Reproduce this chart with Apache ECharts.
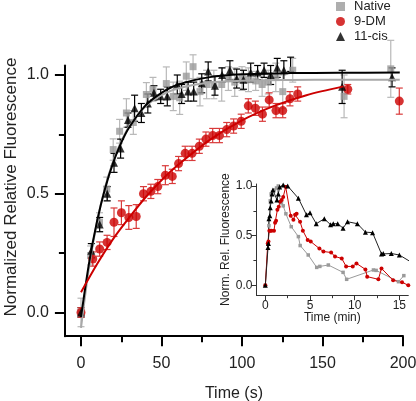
<!DOCTYPE html>
<html>
<head>
<meta charset="utf-8">
<script src="https://cdn.jsdelivr.net/npm/echarts@6/dist/echarts.min.js"></script>
<style>
html,body{margin:0;padding:0;background:#fff;}
#chart{width:416px;height:401px;}
</style>
</head>
<body>
<div id="chart"></div>
<script>
// ---------- Main panel data: [time s, value, error] ----------
const nativeT   = [0, 6, 11.5, 16, 20, 24, 28.2, 32.5, 40.6, 44.7, 53, 57.3, 61.3, 65.4, 69.6, 73.9, 78, 82.5, 87.4, 91.5, 95.5, 100, 104, 108.5, 112.5, 116.3, 121, 125.3, 131.5, 163.4, 192.4];
const nativeY   = [0, 0.24, 0.38, 0.52, 0.686, 0.763, 0.84, 0.80, 0.918, 0.94, 0.964, 0.91, 0.904, 0.995, 1.035, 0.93, 0.96, 0.96, 0.96, 0.985, 0.97, 0.985, 0.98, 0.975, 0.96, 0.97, 0.99, 0.93, 1.02, 0.91, 1.026];
const nativeErr = [0.06, 0.04, 0.04, 0.05, 0.045, 0.05, 0.06, 0.05, 0.05, 0.05, 0.07, 0.06, 0.07, 0.06, 0.05, 0.06, 0.06, 0.06, 0.07, 0.05, 0.06, 0.05, 0.05, 0.04, 0.05, 0.05, 0.06, 0.07, 0.05, 0.09, 0.12];

const dmT   = [0, 7.3, 11.6, 16.2, 20.5, 25.1, 29.7, 34.3, 38.8, 43.4, 47.7, 52.4, 56.7, 60.6, 64.7, 69.0, 73.5, 77.6, 81.8, 86, 90.5, 94.8, 99.5, 103.9, 108.3, 112.7, 116.9, 121.1, 125.3, 129.8, 134.6, 165.7, 197.7];
const dmY   = [0, 0.225, 0.267, 0.295, 0.38, 0.42, 0.40, 0.404, 0.50, 0.51, 0.53, 0.578, 0.573, 0.627, 0.67, 0.67, 0.70, 0.73, 0.745, 0.745, 0.77, 0.785, 0.805, 0.87, 0.86, 0.835, 0.895, 0.85, 0.85, 0.90, 0.92, 0.94, 0.89];
const dmErr = [0.02, 0.03, 0.03, 0.03, 0.06, 0.05, 0.05, 0.05, 0.03, 0.03, 0.03, 0.04, 0.03, 0.03, 0.03, 0.03, 0.03, 0.03, 0.03, 0.03, 0.03, 0.03, 0.03, 0.03, 0.03, 0.03, 0.03, 0.03, 0.03, 0.03, 0.03, 0.02, 0.055];

const cisT   = [0, 6.4, 11.6, 16.3, 20.5, 24.6, 29.2, 33.3, 37.5, 41.5, 45.3, 49.5, 53.6, 59.8, 62.5, 66.5, 70, 75, 79, 83.2, 87.6, 92.5, 96.7, 100.9, 105.4, 109.7, 113.7, 117.8, 121.9, 126, 130.2, 162.2, 193.2];
const cisY   = [0, 0.26, 0.37, 0.50, 0.63, 0.69, 0.81, 0.86, 0.84, 0.88, 0.925, 0.91, 0.91, 0.96, 0.92, 0.93, 0.93, 0.965, 1.015, 0.955, 1.0, 1.02, 0.985, 0.98, 1.01, 1.01, 1.02, 1.0, 1.03, 1.02, 1.045, 0.95, 0.99];
const cisErr = [0.02, 0.03, 0.03, 0.03, 0.04, 0.04, 0.03, 0.055, 0.04, 0.04, 0.03, 0.03, 0.04, 0.04, 0.04, 0.04, 0.04, 0.04, 0.04, 0.04, 0.03, 0.04, 0.04, 0.04, 0.04, 0.03, 0.03, 0.04, 0.04, 0.04, 0.03, 0.07, 0.04];

// fitted curves
const fitT      = [0, 5, 10, 15, 20, 25, 30, 40, 50, 60, 80, 100, 130, 160, 198];
const fitCisY   = [-0.02, 0.208, 0.385, 0.523, 0.631, 0.715, 0.78, 0.871, 0.925, 0.959, 0.991, 1.003, 1.008, 1.009, 1.01];
const fitNatY   = [-0.065, 0.19, 0.383, 0.528, 0.638, 0.721, 0.784, 0.867, 0.915, 0.943, 0.968, 0.976, 0.979, 0.98, 0.98];
const fitDmT    = [0, 10, 20, 30, 40, 50, 60, 80, 100, 120, 140, 163];
const fitDmY    = [0.085, 0.204, 0.31, 0.40, 0.484, 0.557, 0.62, 0.727, 0.809, 0.87, 0.915, 0.952];

// ---------- Inset data (time in min) ----------
const inNatT = [0, 0.3, 0.4, 0.55, 0.65, 0.8, 1.0, 1.25, 1.45, 1.8, 2.0, 2.3, 2.9, 3.7, 3.9, 4.8, 5.75, 6.1, 7.05, 8.7, 9.1, 12.1, 12.4, 14.9, 15.5];
const inNatY = [0, 0.42, 0.6, 0.85, 0.92, 0.94, 0.96, 0.98, 1.0, 0.83, 0.80, 0.72, 0.59, 0.49, 0.40, 0.305, 0.18, 0.19, 0.204, 0.13, 0.06, 0.154, 0.15, 0.036, 0.097];
const inDmT = [0, 0.27, 0.35, 0.45, 0.55, 0.7, 0.97, 1.09, 1.2, 1.35, 1.5, 1.65, 1.83, 2.0, 2.28, 2.84, 3.14, 3.33, 3.5, 3.89, 4.2, 4.74, 5.08, 6.05, 6.5, 7.36, 7.8, 8.55, 9.04, 9.78, 10.2, 11.2, 11.4, 12.65, 13.0, 14.3, 15.3, 16.0];
const inDmY = [0, 0.42, 0.44, 0.55, 0.55, 0.55, 0.55, 0.63, 0.65, 0.76, 0.79, 0.84, 0.86, 0.89, 0.99, 0.70, 0.66, 0.71, 0.72, 0.64, 0.55, 0.456, 0.44, 0.37, 0.34, 0.33, 0.29, 0.27, 0.19, 0.19, 0.22, 0.16, 0.087, 0.06, 0.17, 0.05, 0.03, 0.0];
const inCisT = [0, 0.3, 0.35, 0.4, 0.5, 0.55, 0.65, 0.75, 0.85, 1.3, 1.45, 1.6, 2.0, 2.5, 3.7, 4.6, 5.0, 5.7, 6.6, 7.3, 7.6, 8.1, 8.7, 9.2, 10.3, 11.2, 12.0, 13.0, 13.2, 14.1, 15.0, 16.1];
const inCisY = [0, 0.38, 0.42, 0.67, 0.70, 0.78, 0.85, 0.92, 0.96, 0.86, 0.92, 0.99, 1.01, 1.0, 0.876, 0.71, 0.73, 0.62, 0.67, 0.61, 0.62, 0.62, 0.575, 0.64, 0.62, 0.535, 0.53, 0.315, 0.32, 0.32, 0.305, 0.245];

// tick labels
const mainXTicks = [0, 50, 100, 150, 200];
const mainXMinor = [25, 75, 125, 175];
const mainYTicks = [0, 0.5, 1.0];
const mainYMinor = [0.25, 0.75];
const inXTicks = [0, 5, 10, 15];
const inXMinor = [2.5, 7.5, 12.5];
const inYTicks = [0, 0.5, 1.0];
const inYMinor = [0.25, 0.75];

const FONT = 'Liberation Sans, Arial, sans-serif';
const GRAY = '#9a9a9a', GRAY_ERR = '#b8b8b8', RED = '#cc0000', RED_ERR = '#d93a3a', BLACK = '#000';

const pts = (t, y) => t.map((v, i) => [v, y[i]]);
const errs = (t, y, e) => t.map((v, i) => [v, y[i] - e[i], y[i] + e[i]]);

function errSeries(data, color) {
  return {
    type: 'custom', xAxisIndex: 0, yAxisIndex: 0, data: data, silent: true,
    encode: { x: 0, y: [1, 2] },
    renderItem: function (params, api) {
      const x = api.value(0);
      const a = api.coord([x, api.value(1)]);
      const b = api.coord([x, api.value(2)]);
      const w = 3.5;
      const st = { stroke: color, lineWidth: 1.2 };
      return { type: 'group', children: [
        { type: 'line', shape: { x1: a[0], y1: a[1], x2: b[0], y2: b[1] }, style: st },
        { type: 'line', shape: { x1: a[0] - w, y1: a[1], x2: a[0] + w, y2: a[1] }, style: st },
        { type: 'line', shape: { x1: b[0] - w, y1: b[1], x2: b[0] + w, y2: b[1] }, style: st }
      ]};
    }
  };
}

function axisBase(gi, min, max, extra) {
  return Object.assign({ gridIndex: gi, type: 'value', min: min, max: max, splitLine: { show: false } }, extra);
}

const mainLabel = { fontFamily: FONT, fontSize: 16, color: '#222' };
const inLabel = { fontFamily: FONT, fontSize: 12, color: '#222' };

const option = {
  animation: false,
  backgroundColor: '#fff',
  grid: [
    { left: 64.9, top: 65.5, width: 338.1, height: 270.7, containLabel: false, outerBoundsMode: 'none' },
    { left: 256.4, top: 184, width: 151.9, height: 111.2, containLabel: false, outerBoundsMode: 'none' }
  ],
  legend: {
    orient: 'vertical', left: 331, top: -5, itemWidth: 9, itemHeight: 9, itemGap: 2,
    textStyle: { fontFamily: FONT, fontSize: 13, color: '#222', padding: [0, 0, 0, 4] },
    data: [{ name: 'Native', icon: 'rect' }, { name: '9-DM', icon: 'circle' }, { name: '11-cis', icon: 'triangle' }]
  },
  xAxis: [
    axisBase(0, -10, 200, {
      position: 'bottom',
      axisLine: { show: true, onZero: false, lineStyle: { color: BLACK, width: 2 } },
      axisTick: { show: true, customValues: mainXTicks, length: 10, lineStyle: { color: BLACK, width: 2 } },
      axisLabel: Object.assign({ customValues: mainXTicks, margin: 19 }, mainLabel),
      name: 'Time (s)', nameLocation: 'middle', nameGap: 49,
      nameTextStyle: { fontFamily: FONT, fontSize: 16, color: '#222' }
    }),
    axisBase(0, -10, 200, {
      position: 'bottom',
      axisLine: { show: false, onZero: false },
      axisTick: { show: true, customValues: mainXMinor, length: 6, lineStyle: { color: BLACK, width: 2 } },
      axisLabel: { show: false }
    }),
    axisBase(1, -1, 16, {
      position: 'bottom',
      axisLine: { show: true, onZero: false, lineStyle: { color: '#333', width: 1 } },
      axisTick: { show: true, customValues: inXTicks, length: 5, lineStyle: { color: '#333', width: 1 } },
      axisLabel: Object.assign({ customValues: inXTicks, margin: 4 }, inLabel),
      name: 'Time (min)', nameLocation: 'middle', nameGap: 15,
      nameTextStyle: { fontFamily: FONT, fontSize: 12, color: '#222' }
    }),
    axisBase(1, -1, 16, {
      position: 'bottom',
      axisLine: { show: false, onZero: false },
      axisTick: { show: true, customValues: inXMinor, length: 3, lineStyle: { color: '#333', width: 1 } },
      axisLabel: { show: false }
    })
  ],
  yAxis: [
    axisBase(0, -0.1, 1.04, {
      position: 'left',
      axisLine: { show: true, onZero: false, lineStyle: { color: BLACK, width: 2 } },
      axisTick: { show: true, customValues: mainYTicks, length: 10, lineStyle: { color: BLACK, width: 2 } },
      axisLabel: Object.assign({ customValues: mainYTicks, margin: 16, formatter: v => v.toFixed(1) }, mainLabel)
    }),
    axisBase(0, -0.1, 1.04, {
      position: 'left',
      axisLine: { show: false, onZero: false },
      axisTick: { show: true, customValues: mainYMinor, length: 6, lineStyle: { color: BLACK, width: 2 } },
      axisLabel: { show: false }
    }),
    axisBase(1, -0.1, 1.02, {
      position: 'left',
      axisLine: { show: true, onZero: false, lineStyle: { color: '#333', width: 1 } },
      axisTick: { show: true, customValues: inYTicks, length: 5, lineStyle: { color: '#333', width: 1 } },
      axisLabel: Object.assign({ customValues: inYTicks, margin: 4, formatter: v => v.toFixed(1) }, inLabel),
      name: 'Norm. Rel. Fluorescence', nameLocation: 'middle', nameGap: 21,
      nameTextStyle: { fontFamily: FONT, fontSize: 12, color: '#222' }
    }),
    axisBase(1, -0.1, 1.02, {
      position: 'left',
      axisLine: { show: false, onZero: false },
      axisTick: { show: true, customValues: inYMinor, length: 3, lineStyle: { color: '#333', width: 1 } },
      axisLabel: { show: false }
    })
  ],
  graphic: [
    { type: 'text', x: 11, y: 187, rotation: Math.PI / 2,
      style: { text: 'Normalized Relative Fluorescence', fontFamily: FONT, fontSize: 17, fill: '#222',
               align: 'center', verticalAlign: 'middle' } }
  ],
  series: [
    errSeries(errs(nativeT, nativeY, nativeErr), GRAY_ERR),
    { name: 'Native', type: 'scatter', xAxisIndex: 0, yAxisIndex: 0, symbol: 'rect', symbolSize: 7,
      itemStyle: { color: GRAY }, data: pts(nativeT, nativeY) },
    errSeries(errs(cisT, cisY, cisErr), BLACK),
    errSeries(errs(dmT, dmY, dmErr), RED_ERR),
    { type: 'line', xAxisIndex: 0, yAxisIndex: 0, data: pts(fitT, fitNatY), smooth: 0.3, showSymbol: false,
      lineStyle: { color: '#a8a8a8', width: 2 }, silent: true },
    { type: 'line', xAxisIndex: 0, yAxisIndex: 0, data: pts(fitT, fitCisY), smooth: 0.3, showSymbol: false,
      lineStyle: { color: BLACK, width: 2 }, silent: true },
    { type: 'line', xAxisIndex: 0, yAxisIndex: 0, data: pts(fitDmT, fitDmY), smooth: 0.3, showSymbol: false,
      lineStyle: { color: RED, width: 2 }, silent: true },
    { name: '9-DM', type: 'scatter', xAxisIndex: 0, yAxisIndex: 0, symbol: 'circle', symbolSize: 9,
      itemStyle: { color: RED }, data: pts(dmT, dmY) },
    { name: '11-cis', type: 'scatter', xAxisIndex: 0, yAxisIndex: 0, symbol: 'triangle', symbolSize: 8,
      itemStyle: { color: BLACK }, data: pts(cisT, cisY) },
    // inset
    { type: 'line', xAxisIndex: 2, yAxisIndex: 2, data: pts(inNatT, inNatY), symbol: 'rect', symbolSize: 3.5,
      lineStyle: { color: GRAY, width: 1 }, itemStyle: { color: GRAY }, silent: true },
    { type: 'line', xAxisIndex: 2, yAxisIndex: 2, data: pts(inDmT, inDmY), symbol: 'circle', symbolSize: 4,
      lineStyle: { color: RED, width: 1 }, itemStyle: { color: RED }, silent: true },
    { type: 'line', xAxisIndex: 2, yAxisIndex: 2, data: pts(inCisT, inCisY), symbol: 'triangle', symbolSize: 5,
      lineStyle: { color: '#222', width: 1 }, itemStyle: { color: BLACK }, silent: true }
  ]
};

const chart = echarts.init(document.getElementById('chart'), null, { renderer: 'canvas' });
chart.setOption(option);
</script>
</body>
</html>
